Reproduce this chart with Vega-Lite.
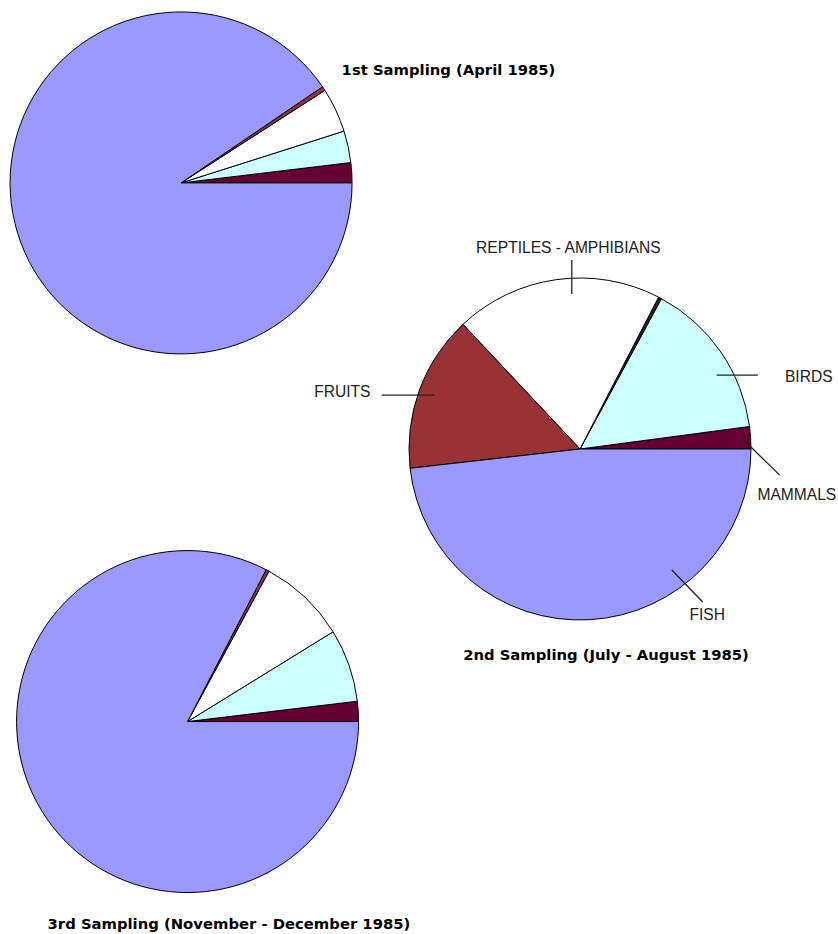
{
  "$schema": "https://vega.github.io/schema/vega-lite/v6.json",
  "width": 838,
  "height": 934,
  "autosize": "none",
  "padding": 0,
  "background": "white",
  "config": {"view": {"stroke": null}},
  "datasets": {
    "diet": [
      {"sampling": "1st Sampling (April 1985)", "category": "MAMMALS", "pct": 1.9, "ord": 1},
      {"sampling": "1st Sampling (April 1985)", "category": "BIRDS", "pct": 3.0, "ord": 2},
      {"sampling": "1st Sampling (April 1985)", "category": "REPTILES - AMPHIBIANS", "pct": 4.2, "ord": 4},
      {"sampling": "1st Sampling (April 1985)", "category": "FRUITS", "pct": 0.4, "ord": 5},
      {"sampling": "1st Sampling (April 1985)", "category": "FISH", "pct": 90.5, "ord": 6},
      {"sampling": "2nd Sampling (July - August 1985)", "category": "MAMMALS", "pct": 2.1, "ord": 1},
      {"sampling": "2nd Sampling (July - August 1985)", "category": "BIRDS", "pct": 15.0, "ord": 2},
      {"sampling": "2nd Sampling (July - August 1985)", "category": "OTHER", "pct": 0.3, "ord": 3},
      {"sampling": "2nd Sampling (July - August 1985)", "category": "REPTILES - AMPHIBIANS", "pct": 19.6, "ord": 4},
      {"sampling": "2nd Sampling (July - August 1985)", "category": "FRUITS", "pct": 14.8, "ord": 5},
      {"sampling": "2nd Sampling (July - August 1985)", "category": "FISH", "pct": 48.2, "ord": 6},
      {"sampling": "3rd Sampling (November - December 1985)", "category": "MAMMALS", "pct": 1.9, "ord": 1},
      {"sampling": "3rd Sampling (November - December 1985)", "category": "BIRDS", "pct": 6.9, "ord": 2},
      {"sampling": "3rd Sampling (November - December 1985)", "category": "REPTILES - AMPHIBIANS", "pct": 8.3, "ord": 4},
      {"sampling": "3rd Sampling (November - December 1985)", "category": "FRUITS", "pct": 0.3, "ord": 5},
      {"sampling": "3rd Sampling (November - December 1985)", "category": "FISH", "pct": 82.6, "ord": 6}
    ],
    "callouts": [
      {"category": "REPTILES - AMPHIBIANS", "lx": -0.068, "ly": 1.175, "ax": -0.048, "ay": 1.105, "bx": -0.048, "by": 0.906},
      {"category": "BIRDS", "lx": 1.338, "ly": 0.423, "ax": 0.8, "ay": 0.432, "bx": 1.04, "by": 0.432},
      {"category": "FRUITS", "lx": -1.39, "ly": 0.333, "ax": -1.159, "ay": 0.315, "bx": -0.849, "by": 0.315},
      {"category": "MAMMALS", "lx": 1.268, "ly": -0.27, "ax": 0.946, "ay": 0.064, "bx": 1.168, "by": -0.153},
      {"category": "FISH", "lx": 0.744, "ly": -0.971, "ax": 0.537, "ay": -0.708, "bx": 0.718, "by": -0.895}
    ]
  },
  "layer": [
    {
      "data": {"name": "diet"},
      "transform": [
        {"stack": "pct", "groupby": ["sampling"], "sort": [{"field": "ord", "order": "ascending"}], "offset": "normalize", "as": ["t0", "t1"]},
        {"filter": "datum.sampling === '1st Sampling (April 1985)'"}
      ],
      "mark": {"type": "arc", "outerRadius": 171, "stroke": "black", "strokeWidth": 1},
      "encoding": {
        "x": {"datum": -2.333, "type": "quantitative", "axis": null, "scale": {"domain": [-3.3918, 1.5088], "nice": false, "zero": false}},
        "y": {"datum": 1.556, "type": "quantitative", "axis": null, "scale": {"domain": [-2.8363, 2.6257], "nice": false, "zero": false}},
        "theta": {"field": "t0", "type": "quantitative", "scale": {"domain": [0, 1], "range": [1.5708, -4.7124]}},
        "theta2": {"field": "t1"},
        "color": {"field": "category", "type": "nominal", "legend": null,
          "scale": {"domain": ["MAMMALS", "BIRDS", "OTHER", "REPTILES - AMPHIBIANS", "FRUITS", "FISH"],
                    "range": ["#660033", "#CCFFFF", "#222222", "#FFFFFF", "#993333", "#9999FF"]}}
      }
    },
    {
      "data": {"name": "diet"},
      "transform": [
        {"stack": "pct", "groupby": ["sampling"], "sort": [{"field": "ord", "order": "ascending"}], "offset": "normalize", "as": ["t0", "t1"]},
        {"filter": "datum.sampling === '2nd Sampling (July - August 1985)'"}
      ],
      "mark": {"type": "arc", "outerRadius": 171, "stroke": "black", "strokeWidth": 1},
      "encoding": {
        "x": {"datum": 0, "type": "quantitative"},
        "y": {"datum": 0, "type": "quantitative"},
        "theta": {"field": "t0", "type": "quantitative"},
        "theta2": {"field": "t1"},
        "color": {"field": "category", "type": "nominal", "legend": null}
      }
    },
    {
      "data": {"name": "diet"},
      "transform": [
        {"stack": "pct", "groupby": ["sampling"], "sort": [{"field": "ord", "order": "ascending"}], "offset": "normalize", "as": ["t0", "t1"]},
        {"filter": "datum.sampling === '3rd Sampling (November - December 1985)'"}
      ],
      "mark": {"type": "arc", "outerRadius": 171, "stroke": "black", "strokeWidth": 1},
      "encoding": {
        "x": {"datum": -2.295, "type": "quantitative"},
        "y": {"datum": -1.594, "type": "quantitative"},
        "theta": {"field": "t0", "type": "quantitative"},
        "theta2": {"field": "t1"},
        "color": {"field": "category", "type": "nominal", "legend": null}
      }
    },
    {
      "data": {"name": "callouts"},
      "mark": {"type": "rule", "color": "#222222", "strokeWidth": 1.3},
      "encoding": {
        "x": {"field": "ax", "type": "quantitative"},
        "y": {"field": "ay", "type": "quantitative"},
        "x2": {"field": "bx"},
        "y2": {"field": "by"}
      }
    },
    {
      "data": {"name": "callouts"},
      "mark": {"type": "text", "font": "Liberation Sans", "fontSize": 15.6, "color": "#222222", "align": "center", "baseline": "middle"},
      "encoding": {
        "x": {"field": "lx", "type": "quantitative"},
        "y": {"field": "ly", "type": "quantitative"},
        "text": {"field": "category", "type": "nominal"}
      }
    },
    {
      "data": {"name": "diet"},
      "transform": [{"filter": "datum.sampling === '1st Sampling (April 1985)' && datum.category === 'FISH'"}],
      "mark": {"type": "text", "font": "DejaVu Sans", "fontWeight": "bold", "fontSize": 14.8, "color": "black", "align": "center", "baseline": "middle"},
      "encoding": {
        "x": {"datum": -0.769, "type": "quantitative"},
        "y": {"datum": 2.211, "type": "quantitative"},
        "text": {"field": "sampling", "type": "nominal"}
      }
    },
    {
      "data": {"name": "diet"},
      "transform": [{"filter": "datum.sampling === '2nd Sampling (July - August 1985)' && datum.category === 'FISH'"}],
      "mark": {"type": "text", "font": "DejaVu Sans", "fontWeight": "bold", "fontSize": 14.8, "color": "black", "align": "center", "baseline": "middle"},
      "encoding": {
        "x": {"datum": 0.152, "type": "quantitative"},
        "y": {"datum": -1.211, "type": "quantitative"},
        "text": {"field": "sampling", "type": "nominal"}
      }
    },
    {
      "data": {"name": "diet"},
      "transform": [{"filter": "datum.sampling === '3rd Sampling (November - December 1985)' && datum.category === 'FISH'"}],
      "mark": {"type": "text", "font": "DejaVu Sans", "fontWeight": "bold", "fontSize": 14.8, "color": "black", "align": "center", "baseline": "middle"},
      "encoding": {
        "x": {"datum": -2.053, "type": "quantitative"},
        "y": {"datum": -2.784, "type": "quantitative"},
        "text": {"field": "sampling", "type": "nominal"}
      }
    }
  ]
}
